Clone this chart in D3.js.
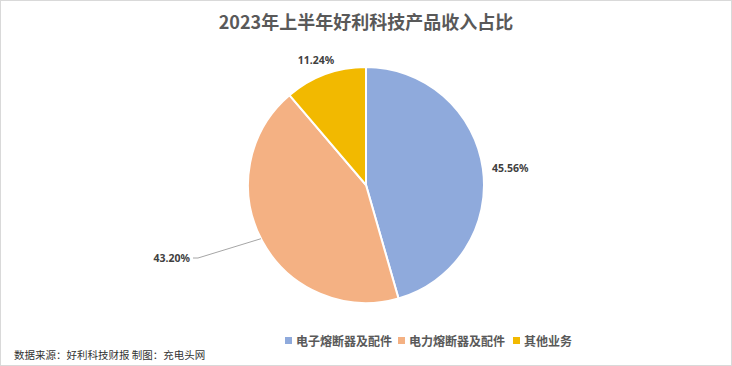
<!DOCTYPE html>
<html><head><meta charset="utf-8">
<script src="https://cdn.jsdelivr.net/npm/d3@7/dist/d3.min.js"></script>
<style>body{margin:0;background:#fff}svg{display:block}</style>
</head><body>
<script>
const categories = ["电子熔断器及配件", "电力熔断器及配件", "其他业务"];
const values = [45.56, 43.20, 11.24];
const labels = ["45.56%", "43.20%", "11.24%"];
const colors = ["#8FAADC", "#F4B183", "#F2B900"];

const W = 732, H = 366;
const svg = d3.select("body").append("svg").attr("width", W).attr("height", H);
svg.append("rect").attr("x", 0.5).attr("y", 0.5).attr("width", W - 1).attr("height", H - 1)
  .attr("fill", "#fff").attr("stroke", "#D9D9D9");

svg.append("text").attr("x", 366).attr("y", 29).attr("text-anchor", "middle")
  .attr("font-family", "'Noto Sans CJK SC', sans-serif").attr("font-weight", "bold")
  .attr("font-size", 18).attr("fill", "#595959").text("2023年上半年好利科技产品收入占比");

const cx = 366, cy = 185, R = 118;
const pie = d3.pie().sort(null).value(d => d)(values);
const arc = d3.arc().innerRadius(0).outerRadius(R);
const g = svg.append("g").attr("transform", `translate(${cx},${cy})`);
g.selectAll("path").data(pie).join("path").attr("d", arc)
  .attr("fill", (d, i) => colors[i]).attr("stroke", "#fff").attr("stroke-width", 2);

// label placement (relative to pie centre)
const lab = [
  {x: 126, y: -13, anchor: "start"},
  {x: -176, y: 77, anchor: "end"},
  {x: -50, y: -121, anchor: "middle"}
];
// leader line for 43.20%
{
  const d = pie[1];
  const a = (d.startAngle + d.endAngle) / 2 + 0.02;
  const ex = Math.sin(a) * R, ey = -Math.cos(a) * R;
  g.append("path").attr("d", `M${ex},${ey} L${lab[1].x + 8},${lab[1].y - 4} L${lab[1].x + 3},${lab[1].y - 4}`)
    .attr("fill", "none").attr("stroke", "#A6A6A6").attr("stroke-width", 1);
}
g.selectAll("text.lbl").data(pie).join("text").attr("class", "lbl")
  .attr("x", (d, i) => lab[i].x).attr("y", (d, i) => lab[i].y)
  .attr("text-anchor", (d, i) => lab[i].anchor)
  .attr("font-family", "'Noto Sans', sans-serif").attr("font-size", 10.5).attr("font-weight", "bold")
  .attr("fill", "#404040").text((d, i) => labels[i]);

// legend
const lx = [285, 398, 513];
const lg = svg.append("g");
categories.forEach((c, i) => {
  lg.append("rect").attr("x", lx[i]).attr("y", 337).attr("width", 7).attr("height", 7).attr("fill", colors[i]);
  lg.append("text").attr("x", lx[i] + 11).attr("y", 346)
    .attr("font-family", "'Noto Sans CJK SC', sans-serif").attr("font-weight", "bold")
    .attr("font-size", 12).attr("fill", "#595959").text(c);
});

svg.append("text").attr("x", 14).attr("y", 359)
  .attr("font-family", "'Noto Sans CJK SC', sans-serif").attr("font-size", 10.5).attr("fill", "#333")
  .text("数据来源：好利科技财报  制图：充电头网");
</script>
</body></html>
